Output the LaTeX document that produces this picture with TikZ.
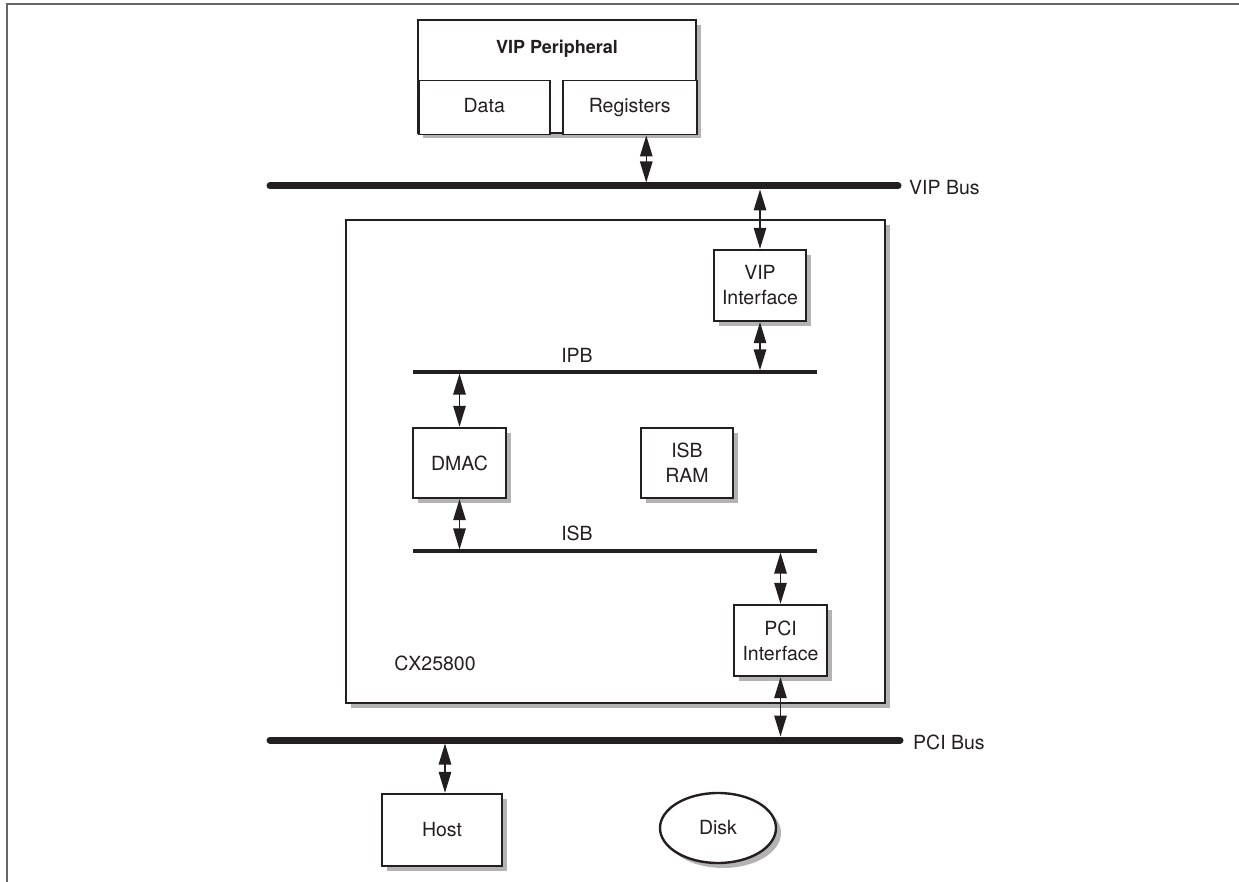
\documentclass[tikz,border=0pt]{standalone}
\usepackage{fontspec}
\setmainfont{TeX Gyre Heros}
\usetikzlibrary{arrows.meta,shadows,shapes.geometric}
\definecolor{shadowgray}{HTML}{B3B3B3}
\definecolor{framegray}{HTML}{666666}
\definecolor{ink}{HTML}{231F20}
\begin{document}
\begin{tikzpicture}[x=1pt,y=-1pt,
  every node/.style={font=\fontsize{19.5}{25}\selectfont, inner sep=0pt, text=ink},
  shad/.style={drop shadow={shadow xshift=5pt, shadow yshift=-5pt, fill=shadowgray, opacity=1}},
  box/.style={draw=ink, line width=2.4pt, fill=white, shad, align=center},
  cell/.style={draw=ink, line width=1.5pt, fill=white, text height=14pt, text depth=4pt},
  bigbus/.style={draw=ink, line width=7pt, line cap=round},
  smallbus/.style={draw=ink, line width=3.2pt},
  dbl/.style={draw=ink, line width=1.3pt, {Triangle[length=21pt,width=12.5pt]}-{Triangle[length=21pt,width=12.5pt]}}
]
\useasboundingbox (0,0) rectangle (1239,882);
% frame
\draw[framegray, line width=2.5pt] (7,882) -- (7,4) -- (1239,4);

% VIP peripheral
\node[box, line width=2pt, minimum width=278, minimum height=113] (vipp) at (557,76.5) {};
\node[font=\fontsize{18}{22}\selectfont\bfseries] (vippt) at (557,49) {VIP Peripheral};
\node[cell, minimum width=131, minimum height=54, anchor=north west] (data) at (418,80) {Data};
\node[cell, minimum width=134, minimum height=54, anchor=north west] (regs) at (562,80) {Registers};

% CX25800 chip
\node[box, minimum width=539, minimum height=483] (cx) at (615.5,461.5) {};
\node (cxlabel) at (435,663) {CX25800};

% buses
\coordinate (vipL) at (270,186);
\coordinate (vipR) at (898,186);
\coordinate (pciL) at (270,740);
\coordinate (pciR) at (900,740);
\coordinate (ipbL) at (413,372);
\coordinate (ipbR) at (817,372);
\coordinate (isbL) at (413,551);
\coordinate (isbR) at (817,551);
\draw[bigbus] (vipL) -- (vipR);
\draw[bigbus] (pciL) -- (pciR);
\draw[smallbus] (ipbL) -- (ipbR);
\draw[smallbus] (isbL) -- (isbR);
\node[anchor=west] (viplabel) at (909,188) {VIP Bus};
\node[anchor=west] (pcilabel) at (913,742) {PCI Bus};
\node (ipblabel) at (577,355) {IPB};
\node (isblabel) at (577,533) {ISB};

\node[box, minimum width=92, minimum height=71] (vipif) at (760,285.5) {VIP\\Interface};
\node[box, minimum width=93, minimum height=70] (dmac) at (459.5,463) {DMAC};
\node[box, minimum width=92, minimum height=70] (isbram) at (687,463) {ISB\\RAM};
\node[box, minimum width=93, minimum height=71] (pciif) at (780.5,640.5) {PCI\\Interface};

% outside
\node[box, minimum width=120, minimum height=72] (host) at (442,830) {Host};
\node[box, ellipse, minimum width=116, minimum height=70] (disk) at (718,828) {Disk};

% connectors
\draw[dbl, shorten >=3.5pt] ([xshift=16.5pt]regs.south) -- ([xshift=16.5pt]regs.south |- vipL);
\draw[dbl, shorten <=3.5pt] (vipif.north |- vipL) -- (vipif.north);
\draw[dbl, shorten >=1.6pt] (vipif.south) -- (vipif.south |- ipbL);
\draw[dbl, shorten <=1.6pt] (dmac.north |- ipbL) -- (dmac.north);
\draw[dbl, shorten >=1.6pt] (dmac.south) -- (dmac.south |- isbL);
\draw[dbl, shorten <=1.6pt] (pciif.north |- isbL) -- (pciif.north);
\draw[dbl, shorten >=3.5pt] (pciif.south) -- (pciif.south |- pciL);
\draw[dbl, shorten <=3.5pt] ([xshift=3pt]host.north |- pciL) -- ([xshift=3pt]host.north);
\end{tikzpicture}
\end{document}
